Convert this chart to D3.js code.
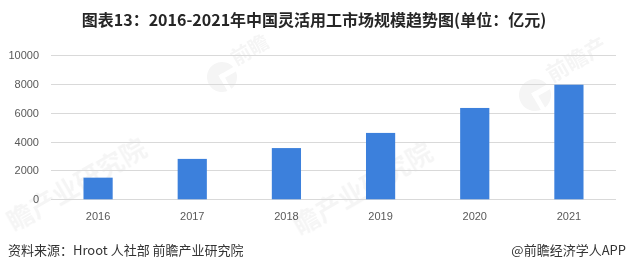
<!DOCTYPE html>
<html>
<head>
<meta charset="utf-8">
<script src="https://cdn.jsdelivr.net/npm/d3@7"></script>
<style>
  html, body { margin: 0; padding: 0; background: #fff; }
  svg { display: block; }
</style>
</head>
<body>
<svg id="chart" width="628" height="271"></svg>
<script>
// Market size by year (unit: 100 million yuan)
const years = ["2016", "2017", "2018", "2019", "2020", "2021"];
const marketSize = [1500, 2800, 3550, 4600, 6330, 7940];
const yTicks = [0, 2000, 4000, 6000, 8000, 10000];

const titleText = "图表13：2016-2021年中国灵活用工市场规模趋势图(单位：亿元)";
const sourceText = "资料来源：Hroot 人社部 前瞻产业研究院";
const creditText = "@前瞻经济学人APP";

const svg = d3.select("#chart");
const W = 628, H = 271;
const plot = { left: 51, right: 616, top: 55, bottom: 199.3 };

const x = d3.scaleBand()
  .domain(years)
  .range([plot.left, plot.right])
  .paddingInner(0.69)
  .paddingOuter(0.345);

const y = d3.scaleLinear()
  .domain([0, 10000])
  .range([plot.bottom, plot.top]);

const sans = "'Liberation Sans', Arial, 'Noto Sans CJK SC', sans-serif";
const cjk = "'Noto Sans CJK SC', 'Liberation Sans', sans-serif";

// faint brand watermarks behind the plot
const wm = svg.append("g").attr("fill", "#000").attr("opacity", 0.04);
function logo(cx, cy, r) {
  const g = wm.append("g").attr("transform", `translate(${cx},${cy}) rotate(-30)`);
  g.append("circle").attr("r", r);
  g.append("rect").attr("x", -r * 0.15).attr("y", -r * 0.2).attr("width", r * 1.2).attr("height", r * 0.35).attr("fill", "#fff");
  g.append("rect").attr("x", -r * 0.15).attr("y", -r * 0.2).attr("width", r * 0.3).attr("height", r * 1.3).attr("fill", "#fff");
}
logo(222, 77, 15);
logo(535, 95, 16);
wm.append("text").attr("transform", "translate(236,66) rotate(-30)")
  .attr("font-family", cjk).attr("font-weight", 700).attr("font-size", 20).text("前瞻");
wm.append("text").attr("transform", "translate(552,83) rotate(-30)")
  .attr("font-family", cjk).attr("font-weight", 700).attr("font-size", 22).text("前瞻产");
wm.append("text").attr("transform", "translate(14,232) rotate(-30)")
  .attr("font-family", cjk).attr("font-weight", 700).attr("font-size", 26).text("瞻产业研究院");
wm.append("text").attr("transform", "translate(300,236) rotate(-30)")
  .attr("font-family", cjk).attr("font-weight", 700).attr("font-size", 26).text("瞻产业研究院");

// horizontal gridlines
svg.append("g")
  .selectAll("line")
  .data(yTicks)
  .join("line")
  .attr("x1", plot.left)
  .attr("x2", plot.right)
  .attr("y1", d => Math.round(y(d)) + 0.5)
  .attr("y2", d => Math.round(y(d)) + 0.5)
  .attr("stroke", "#d9d9d9")
  .attr("stroke-width", 1);

// y axis labels
const yAxis = svg.append("g")
  .attr("transform", `translate(${plot.left - 12},0)`)
  .call(d3.axisLeft(y).tickValues(yTicks).tickSize(0).tickPadding(0).tickFormat(d3.format("d")));
yAxis.select(".domain").remove();
yAxis.selectAll("text")
  .attr("font-family", sans)
  .attr("font-size", 11)
  .attr("fill", "#595959");

// bars
svg.append("g")
  .selectAll("rect")
  .data(years.map((yr, i) => ({ yr, v: marketSize[i] })))
  .join("rect")
  .attr("x", d => x(d.yr))
  .attr("width", x.bandwidth())
  .attr("y", d => y(d.v))
  .attr("height", d => y(0) - y(d.v))
  .attr("fill", "#3c80dc");

// x axis labels
const xAxis = svg.append("g")
  .attr("transform", `translate(0,${plot.bottom + 13})`)
  .call(d3.axisBottom(x).tickSize(0).tickPadding(0));
xAxis.select(".domain").remove();
xAxis.selectAll("text")
  .attr("font-family", sans)
  .attr("font-size", 11)
  .attr("fill", "#595959");

// title
svg.append("text")
  .attr("x", W / 2)
  .attr("y", 26)
  .attr("text-anchor", "middle")
  .attr("font-family", cjk)
  .attr("font-weight", 700)
  .attr("font-size", 16)
  .attr("fill", "#262626")
  .text(titleText);

// footer: source and credit
svg.append("text")
  .attr("x", 8)
  .attr("y", 255)
  .attr("font-family", cjk)
  .attr("font-size", 13)
  .attr("fill", "#333")
  .text(sourceText);

svg.append("text")
  .attr("x", 626)
  .attr("y", 255)
  .attr("text-anchor", "end")
  .attr("font-family", cjk)
  .attr("font-size", 13)
  .attr("fill", "#333")
  .text(creditText);
</script>
</body>
</html>
